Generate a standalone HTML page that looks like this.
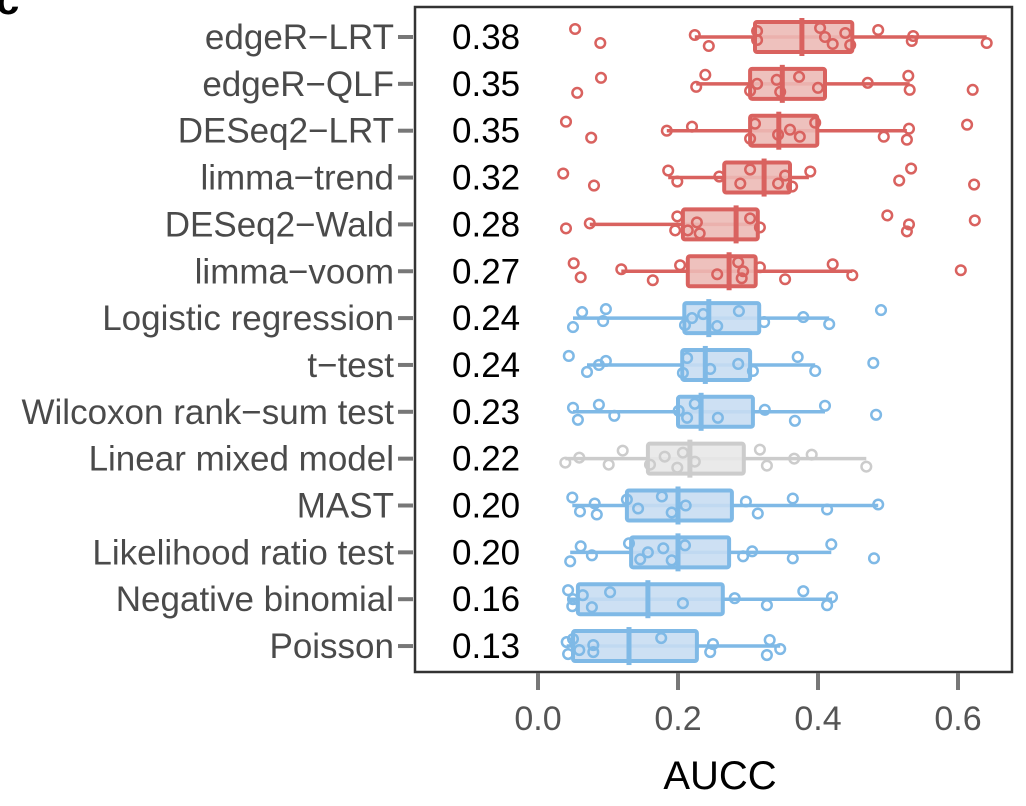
<!DOCTYPE html>
<html><head><meta charset="utf-8"><style>
body{margin:0;background:#fff;}
svg{display:block;font-family:"Liberation Sans",sans-serif;}
</style></head><body>
<svg id="chart" width="1026" height="806">
<text x="-4" y="14" font-size="42" font-weight="bold" fill="#000">c</text>
<rect x="415" y="7" width="597" height="665" fill="none" stroke="#333" stroke-width="2.5"/>
<g id="marks"></g>
<text x="720" y="789" font-size="40" text-anchor="middle" fill="#000">AUCC</text>
</svg>
<script>
const methods=["edgeR\u2212LRT","edgeR\u2212QLF","DESeq2\u2212LRT","limma\u2212trend","DESeq2\u2212Wald","limma\u2212voom","Logistic regression","t\u2212test","Wilcoxon rank\u2212sum test","Linear mixed model","MAST","Likelihood ratio test","Negative binomial","Poisson"];
const labels=["0.38","0.35","0.35","0.32","0.28","0.27","0.24","0.24","0.23","0.22","0.20","0.20","0.16","0.13"];
const groups=["r","r","r","r","r","r","b","b","b","g","b","b","b","b"];
const whiskerLo=[.224,.226,.184,.186,.074,.119,.050,.070,.050,.039,.049,.046,.043,.041];
const q1=[.310,.303,.303,.266,.207,.214,.209,.206,.200,.157,.127,.133,.057,.050];
const med=[.377,.349,.344,.323,.283,.273,.244,.239,.233,.217,.200,.200,.157,.130];
const q3=[.449,.410,.399,.360,.314,.311,.316,.303,.307,.294,.277,.273,.264,.227];
const whiskerHi=[.641,.531,.527,.387,.316,.449,.416,.396,.410,.469,.486,.419,.420,.346];
const points=[
[.053,.089,.224,.244,.313,.313,.403,.421,.410,.439,.446,.486,.534,.536,.641],
[.056,.090,.226,.239,.303,.313,.341,.346,.373,.400,.471,.531,.529,.621],
[.040,.076,.184,.220,.303,.310,.343,.360,.374,.396,.494,.530,.527,.613],
[.036,.080,.186,.199,.259,.289,.303,.343,.353,.363,.389,.516,.533,.623],
[.040,.074,.196,.199,.214,.227,.231,.303,.317,.499,.527,.530,.624],
[.051,.061,.119,.164,.203,.256,.286,.291,.293,.317,.353,.421,.449,.604],
[.050,.063,.093,.097,.210,.220,.236,.256,.287,.323,.379,.416,.490],
[.044,.070,.087,.097,.207,.213,.246,.286,.307,.371,.396,.479],
[.050,.057,.087,.109,.201,.213,.224,.257,.324,.367,.410,.483],
[.039,.059,.101,.121,.160,.181,.199,.207,.224,.317,.327,.366,.391,.469],
[.049,.060,.081,.084,.127,.143,.177,.191,.211,.297,.314,.364,.413,.486],
[.046,.061,.077,.130,.146,.157,.179,.191,.210,.293,.306,.364,.419,.480],
[.043,.049,.050,.064,.077,.103,.207,.281,.327,.379,.413,.420],
[.041,.043,.050,.059,.079,.079,.176,.246,.250,.327,.331,.346]];
const xTicks=[0,0.2,0.4,0.6];
const xTickLabels=["0.0","0.2","0.4","0.6"];

const NS="http://www.w3.org/2000/svg";
const g=document.getElementById('marks');
const xS=v=>538+v*700;
const yS=i=>37+i*46.85;
const jit=[-8,6,-2,9,-6,3,-9,7,0,-4,8,-7,4,-1,6];
const col={r:["#d9625f","#ecbab6"],b:["#7fb9e6","#c8ddf2"],g:["#cccccc","#e8e8e8"]};
function mk(t,a){const e=document.createElementNS(NS,t);for(const k in a)e.setAttribute(k,a[k]);g.appendChild(e);return e;}
xTicks.forEach((v,i)=>{
 const t=mk('line',{x1:xS(v),x2:xS(v),y1:673,y2:690,stroke:'#777','stroke-width':4});
 
 
 const l=mk('text',{x:xS(v),y:730,'font-size':34,'text-anchor':'middle',fill:'#555'});
 l.textContent=xTickLabels[i];
 
 
});
methods.forEach((m,i)=>{
 const y=yS(i),[s,f]=col[groups[i]];
 const tk=mk('line',{x1:398,x2:413,y1:y,y2:y,stroke:'#777','stroke-width':4});
 
 
 const lab=mk('text',{x:394,y:y+12,'font-size':35,'text-anchor':'end',fill:'#4a4a4a','textLength':0});
 lab.removeAttribute('textLength');
 lab.textContent=m;
 
 
 const vl=mk('text',{x:452,y:y+12,'font-size':35,fill:'#000'});
 vl.textContent=labels[i];
 
 
 const w=mk('line',{x1:xS(whiskerLo[i]),x2:xS(whiskerHi[i]),y1:y,y2:y,stroke:s,'stroke-width':3.5});
 
 
 const b=mk('rect',{x:xS(q1[i]),y:y-15,width:xS(q3[i])-xS(q1[i]),height:30,rx:2,fill:f,stroke:s,'stroke-width':4,'fill-opacity':0.9});
 
 
 const md=mk('line',{x1:xS(med[i]),x2:xS(med[i]),y1:y-19,y2:y+19,stroke:s,'stroke-width':5});
 
 
 points[i].forEach((p,j)=>{
  const c=mk('circle',{cx:xS(p),cy:y+jit[(j+i*3)%jit.length],r:4.8,fill:'none',stroke:s,'stroke-width':2.5});
  
  
 });
});
</script>
</body></html>
